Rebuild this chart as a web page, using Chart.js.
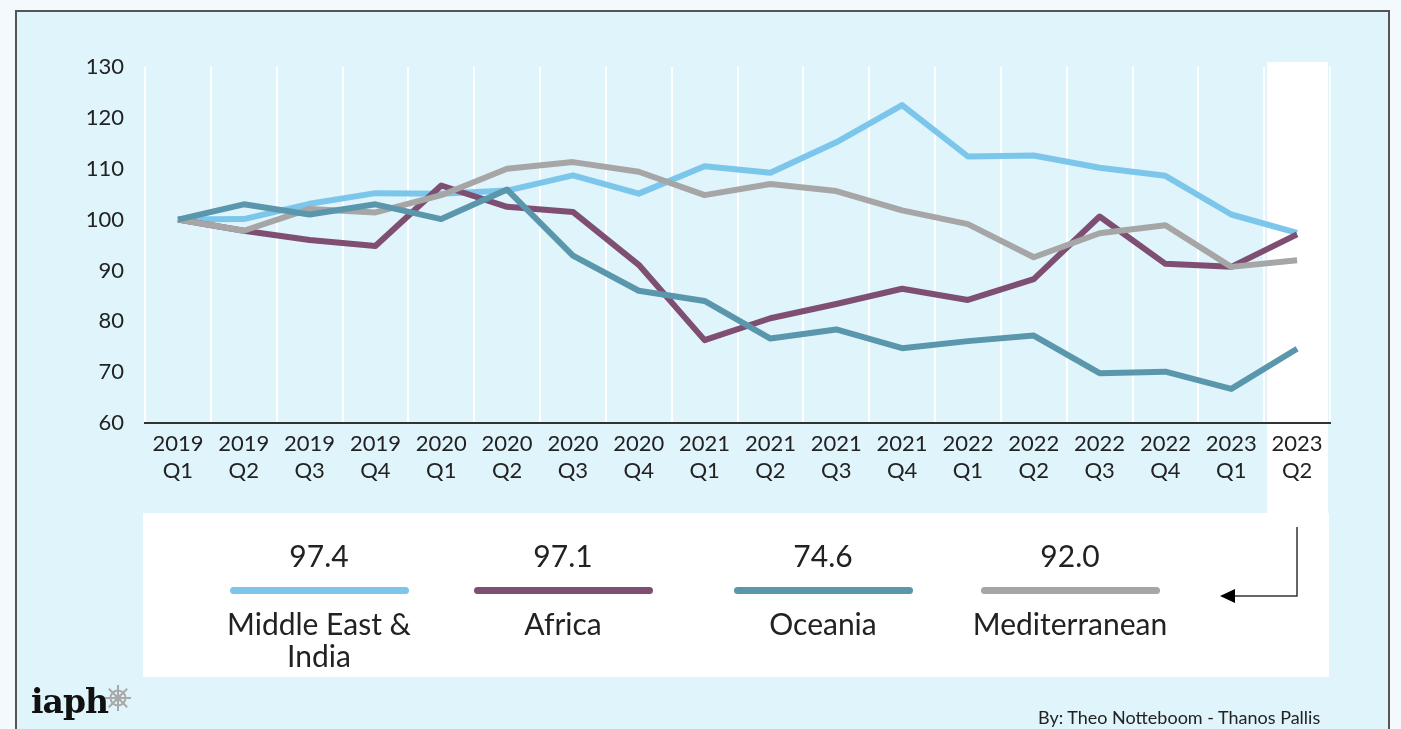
<!DOCTYPE html>
<html>
<head>
<meta charset="utf-8">
<script src="https://cdn.jsdelivr.net/npm/chart.js@4/dist/chart.umd.min.js"></script>
<style>
  html, body { margin: 0; padding: 0; }
  body { width: 1401px; height: 729px; background: #f3f9fd; position: relative; overflow: hidden; font-family: Lato, "Open Sans", sans-serif; color: #222; }
  #panel { position: absolute; left: 15px; top: 10px; width: 1375px; height: 740px; background: #e0f4fb; border: 2px solid #555; box-sizing: border-box; }
  #legendBox { position: absolute; left: 143px; top: 513px; width: 1186px; height: 164px; background: #fff; }
  #myChart { position: absolute; left: 0; top: 0; }
  .item { position: absolute; width: 240px; text-align: center; top: 537px; z-index: 3; }
  .item .val { font-size: 30px; line-height: 36px; height: 36px; }
  .item .bar { height: 7px; border-radius: 4px; width: 179px; margin: 14px auto 0 auto; }
  .item .lab { font-size: 30px; line-height: 32px; margin-top: 13px; padding: 0 10px; }
  #arrow { position: absolute; left: 1210px; top: 520px; z-index: 3; }
  #logo { position: absolute; left: 31px; top: 682px; z-index: 3; font-family: "DejaVu Serif", serif; font-weight: bold; font-size: 33px; color: #111; letter-spacing: -1px; }
  #wheel { position: absolute; left: 104px; top: 684px; z-index: 3; }
  #credit { position: absolute; left: 1038px; top: 706px; font-size: 18px; color: #222; z-index: 3; }
</style>
</head>
<body>
<div id="panel"></div>
<div id="legendBox"></div>
<canvas id="myChart" width="1401" height="729"></canvas>
<div id="legendItems"></div>
<svg id="arrow" width="100" height="90">
  <polyline points="87,7 87,76 24,76" fill="none" stroke="#333" stroke-width="1.5"/>
  <polygon points="10,76 25,69 25,83" fill="#000"/>
</svg>
<div id="logo">iaph</div>
<svg id="wheel" width="28" height="28" viewBox="0 0 28 28">
  <g stroke="#a9a9a9" stroke-width="2" fill="none">
    <circle cx="14" cy="14" r="7.5"/>
    <circle cx="14" cy="14" r="2.5" fill="#a9a9a9"/>
    <line x1="14" y1="1" x2="14" y2="27"/>
    <line x1="1" y1="14" x2="27" y2="14"/>
    <line x1="4.8" y1="4.8" x2="23.2" y2="23.2"/>
    <line x1="23.2" y1="4.8" x2="4.8" y2="23.2"/>
  </g>
</svg>
<div id="credit">By: Theo Notteboom - Thanos Pallis</div>

<script>
// Quarter labels (two lines each)
const tickLabels = [
  ['2019','Q1'],['2019','Q2'],['2019','Q3'],['2019','Q4'],
  ['2020','Q1'],['2020','Q2'],['2020','Q3'],['2020','Q4'],
  ['2021','Q1'],['2021','Q2'],['2021','Q3'],['2021','Q4'],
  ['2022','Q1'],['2022','Q2'],['2022','Q3'],['2022','Q4'],
  ['2023','Q1'],['2023','Q2']
]

const seriesNames = ['Middle East & India', 'Africa', 'Oceania', 'Mediterranean']

const meIndia = [100, 100.1, 103.1, 105.2, 105.1, 105.7, 108.7, 105.1, 110.5, 109.2, 115.2, 122.5, 112.4, 112.6, 110.2, 108.6, 101.0, 97.4]
const africa = [100, 97.8, 96.0, 94.8, 106.7, 102.5, 101.5, 91.1, 76.3, 80.6, 83.4, 86.4, 84.2, 88.3, 100.6, 91.3, 90.7, 97.1]
const oceania = [100, 103.0, 101.0, 103.0, 100.1, 105.9, 92.9, 86.0, 84.0, 76.6, 78.4, 74.7, 76.1, 77.2, 69.8, 70.1, 66.7, 74.6]
const mediterranean = [100, 97.8, 102.1, 101.4, 104.8, 110.0, 111.3, 109.4, 104.8, 107.0, 105.6, 101.8, 99.1, 92.6, 97.3, 98.9, 90.7, 92.0]

const colors = ['#7cc6ec', '#7e4f72', '#5a97ac', '#a6a6a6']
const allSeries = [meIndia, africa, oceania, mediterranean]
// teal on top, then grey, purple, blue
const drawOrder = [3, 2, 0, 1]

// white highlight behind the last quarter (drawn before axes so labels stay on top)
const highlightLast = {
  id: 'highlightLast',
  beforeDraw(chart) {
    const x = chart.scales.x
    const last = tickLabels.length - 1
    const c = x.getPixelForValue(last)
    const half = (c - x.getPixelForValue(last - 1)) / 2
    const ctx = chart.ctx
    ctx.save()
    ctx.fillStyle = '#ffffff'
    ctx.fillRect(c - half + 3, chart.chartArea.top - 5, 2 * half - 5, 513 - chart.chartArea.top + 5)
    ctx.restore()
  }
}

const ctx = document.getElementById('myChart')

new Chart(ctx, {
  type: 'line',
  data: {
    labels: tickLabels,
    datasets: allSeries.map((s, i) => ({
      label: seriesNames[i],
      data: s,
      borderColor: colors[i],
      backgroundColor: colors[i],
      borderWidth: 6,
      pointRadius: 0,
      tension: 0,
      borderJoinStyle: 'round',
      order: drawOrder[i]
    }))
  },
  options: {
    responsive: false,
    animation: false,
    layout: { padding: { left: 0, right: 71, top: 67, bottom: 216 } },
    plugins: { legend: { display: false }, tooltip: { enabled: false } },
    scales: {
      x: {
        offset: true,
        grid: { offset: true, color: '#ffffff', lineWidth: 2, drawTicks: false },
        border: { color: '#333333', width: 2 },
        ticks: { color: '#222', padding: 7, maxRotation: 0, autoSkip: false,
          font: { family: 'Lato', size: 22, lineHeight: 1.23 } },
        afterFit(scale) { scale.height = 90 }
      },
      y: {
        min: 60, max: 130,
        grid: { display: false, drawTicks: false },
        border: { display: false },
        ticks: { stepSize: 10, color: '#222', padding: 21,
          font: { family: 'Lato', size: 22 } },
        afterFit(scale) { scale.width = 145 }
      }
    }
  },
  plugins: [highlightLast]
})

// legend: last value, colour bar, name
const centers = [319, 563, 823, 1070]
const holder = document.getElementById('legendItems')
allSeries.forEach((s, i) => {
  const d = document.createElement('div')
  d.className = 'item'
  d.style.left = (centers[i] - 120) + 'px'
  d.innerHTML = '<div class="val">' + s[s.length - 1].toFixed(1) + '</div>' +
    '<div class="bar" style="background:' + colors[i] + '"></div>' +
    '<div class="lab">' + seriesNames[i].replace('&', '&amp;') + '</div>'
  holder.appendChild(d)
})
</script>
</body>
</html>
